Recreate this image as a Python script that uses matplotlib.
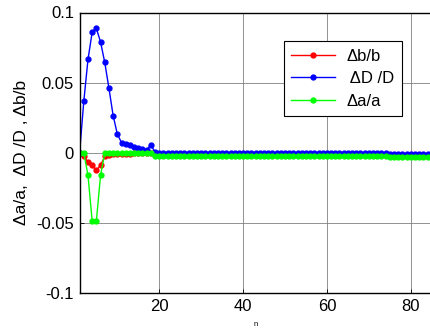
import matplotlib
matplotlib.use("Agg")
import matplotlib.pyplot as plt

plt.rcParams['font.family'] = ['Liberation Sans', 'DejaVu Sans']

n = list(range(1, 86))

db_b = [0, -0.0025, -0.0067, -0.009, -0.0126, -0.009, -0.0025, -0.0015, -0.0012, -0.001,
        -0.0008, -0.0007, -0.0006, -0.0005, -0.0005, -0.0004, -0.0004, -0.0004, -0.001, -0.001,
        -0.001, -0.001, -0.001, -0.001, -0.001, -0.001, -0.001, -0.001, -0.001, -0.001,
        -0.001, -0.001, -0.001, -0.001, -0.001, -0.001, -0.001, -0.001, -0.001, -0.001,
        -0.001, -0.001, -0.001, -0.001, -0.001, -0.001, -0.001, -0.001, -0.001, -0.001,
        -0.001, -0.001, -0.001, -0.001, -0.001, -0.001, -0.001, -0.001, -0.001, -0.001,
        -0.001, -0.001, -0.001, -0.001, -0.001, -0.001, -0.001, -0.001, -0.001, -0.001,
        -0.001, -0.001, -0.001, -0.001, -0.0015, -0.0015, -0.0015, -0.0015, -0.0015, -0.0015,
        -0.0015, -0.0015, -0.0015, -0.0015, -0.0015]

dD_D = [0, 0.0367, 0.0665, 0.086, 0.0886, 0.079, 0.0644, 0.046, 0.0265, 0.0133,
        0.0072, 0.006, 0.0053, 0.0042, 0.0035, 0.0026, 0.0019, 0.0058, 0.0002, -0.0005,
        -0.0005, -0.0005, -0.0005, -0.0005, -0.0005, -0.0005, -0.0005, -0.0005, -0.0005, -0.0005,
        -0.0005, -0.0005, -0.0005, -0.0005, -0.0005, -0.0005, -0.0005, -0.0005, -0.0005, -0.0005,
        -0.0005, -0.0005, -0.0005, -0.0005, -0.0005, -0.0005, -0.0005, -0.0005, -0.0005, -0.0005,
        -0.0005, -0.0005, -0.0005, -0.0005, -0.0005, -0.0005, -0.0005, -0.0005, -0.0005, -0.0005,
        -0.0005, -0.0005, -0.0005, -0.0005, -0.0005, -0.0005, -0.0005, -0.0005, -0.0005, -0.0005,
        -0.0005, -0.0005, -0.0005, -0.0005, -0.0009, -0.0009, -0.0009, -0.0009, -0.0009, -0.0009,
        -0.0009, -0.0009, -0.0009, -0.0009, -0.0009]

da_a = [0, 0, -0.016, -0.0487, -0.0487, -0.016, -0.0003, -0.0003, -0.0003, -0.0003,
        -0.0003, -0.0003, -0.0003, -0.0003, -0.0003, -0.0003, -0.0003, -0.0003, -0.0022, -0.0022,
        -0.0022, -0.0022, -0.0022, -0.0022, -0.0022, -0.0022, -0.0022, -0.0022, -0.0022, -0.0022,
        -0.0022, -0.0022, -0.0022, -0.0022, -0.0022, -0.0022, -0.0022, -0.0022, -0.0022, -0.0022,
        -0.0022, -0.0022, -0.0022, -0.0022, -0.0022, -0.0022, -0.0022, -0.0022, -0.0022, -0.0022,
        -0.0022, -0.0022, -0.0022, -0.0022, -0.0022, -0.0022, -0.0022, -0.0022, -0.0022, -0.0022,
        -0.0022, -0.0022, -0.0022, -0.0022, -0.0022, -0.0022, -0.0022, -0.0022, -0.0022, -0.0022,
        -0.0022, -0.0022, -0.0022, -0.0022, -0.0027, -0.0027, -0.0027, -0.0027, -0.0027, -0.0027,
        -0.0027, -0.0027, -0.0027, -0.0027, -0.0027]

labels = ["\u0394b/b", " \u0394D /D", "\u0394a/a"]
xticks = [20, 40, 60, 80]
yticks = [-0.1, -0.05, 0, 0.05, 0.1]
yticklabels = ["-0.1", "-0.05", "0", "0.05", "0.1"]

fig = plt.figure(figsize=(4.30, 3.29), dpi=100)
ax = fig.add_axes([79.6 / 430, (329 - 293) / 329, (432 - 79.6) / 430, (293 - 12.5) / 329])

ax.plot(n, db_b, color=(1, 0, 0), marker='o', markersize=3.5, lw=1, label=labels[0])
ax.plot(n, dD_D, color=(0, 0, 1), marker='o', markersize=3.5, lw=1, label=labels[1])
ax.plot(n, da_a, color=(0, 1, 0), marker='o', markersize=3.5, lw=1, label=labels[2])

ax.set_xlim(1, 85.07)
ax.set_ylim(-0.1, 0.1)
ax.set_xticks(xticks)
ax.set_yticks(yticks)
ax.set_yticklabels(yticklabels)
ax.tick_params(direction='in', length=3, labelsize=12, width=0.6, pad=4)
ax.grid(True, color='#808080', lw=0.6)
ax.set_axisbelow(True)
for s in ax.spines.values():
    s.set_linewidth(1.0)

ax.set_ylabel("\u0394a/a,  \u0394D /D , \u0394b/b", fontsize=12.5, labelpad=5)
ax.set_xlabel("n", fontsize=5.5, labelpad=5)

leg = ax.legend(loc='upper right', bbox_to_anchor=(0.915, 0.898), borderaxespad=0,
                fancybox=False, framealpha=1, edgecolor='black', fontsize=12,
                handlelength=2.6, labelspacing=0.45, borderpad=0.45, handletextpad=0.7)
leg.get_frame().set_linewidth(0.8)

fig.savefig("out.png", dpi=100)
